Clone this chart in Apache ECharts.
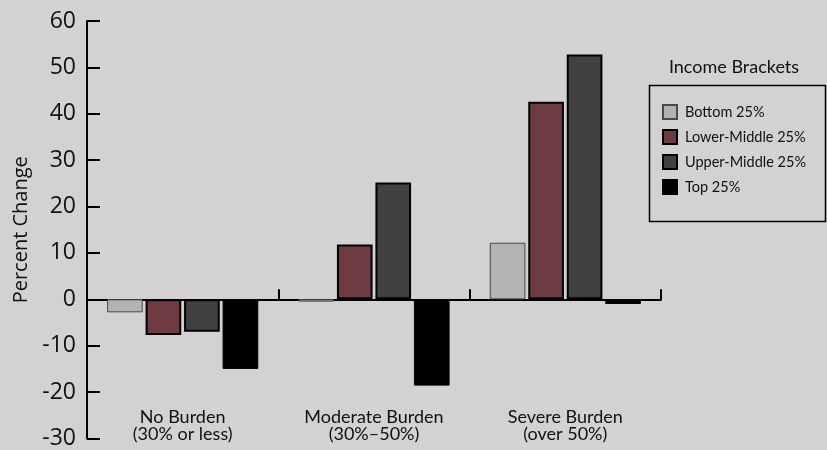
<!DOCTYPE html>
<html><head><meta charset="utf-8">
<script src="https://cdn.jsdelivr.net/npm/echarts@6/dist/echarts.min.js"></script>
<style>html,body{margin:0;padding:0;background:#d3d1d2;}#c{width:827px;height:450px;}</style>
</head><body><div id="c"></div>
<script>
var categories = ['No Burden\n(30% or less)', 'Moderate Burden\n(30%\u201350%)', 'Severe Burden\n(over 50%)'];
var seriesNames = ['Bottom 25%', 'Lower-Middle 25%', 'Upper-Middle 25%', 'Top 25%'];
var bottom25 = [-2.8, -0.5, 12.2];
var lowerMiddle25 = [-7.7, 11.8, 42.6];
var upperMiddle25 = [-7.0, 25.2, 52.8];
var top25 = [-15.0, -18.6, -1.0];
var yTicks = {min: -30, max: 60, interval: 10};
var legendTitle = 'Income Brackets';
var yTitle = 'Percent Change';

var colors = ['#b3b3b3', '#6e3b43', '#414141', '#000000'];
var borders = [{c:'#4a4a4a', w:1}, {c:'#000', w:2}, {c:'#000', w:2}, {c:'#000', w:1}];
var values = [bottom25, lowerMiddle25, upperMiddle25, top25];
var font = 'Lato';

var series = seriesNames.map(function(n, i){
  return {
    name: n, type: 'bar', xAxisIndex: 0, data: values[i],
    barGap: '8%', barCategoryGap: '21%',
    itemStyle: {color: colors[i], borderColor: borders[i].c, borderWidth: borders[i].w},
    emphasis: {disabled: true}
  };
});

var chart = echarts.init(document.getElementById('c'));
chart.setOption({
  animation: false,
  backgroundColor: '#d3d1d2',
  grid: {left: 87, right: 166, top: 21, bottom: 8, containLabel: false},
  legend: {
    orient: 'vertical', left: 662, top: 104, padding: 0,
    icon: 'rect',
    itemWidth: 14, itemHeight: 14, itemGap: 9,
    textStyle: {fontFamily: font, fontSize: 14.5, color: '#111', padding: [0, 0, 0, 3]},
    data: seriesNames
  },
  graphic: [
    {type: 'rect', left: 647, top: 83, shape: {width: 176, height: 136}, style: {fill: 'none', stroke: '#000', lineWidth: 1.5}, z: 0},
    {type: 'text', x: 734, y: 67, style: {text: legendTitle, font: '18px Lato', fill: '#111', textAlign: 'center', textVerticalAlign: 'middle'}}
  ],
  xAxis: [
    {type: 'category', data: categories, position: 'bottom',
     axisLine: {show: false, onZero: false}, axisTick: {show: false},
     axisLabel: {fontFamily: font, fontSize: 18, color: '#111', lineHeight: 17, margin: -30, verticalAlign: 'top'}},
    {type: 'category', data: categories, position: 'bottom',
     axisLine: {show: true, onZero: true, lineStyle: {color: '#000', width: 2}},
     axisTick: {show: true, inside: true, length: 10, lineStyle: {color: '#000', width: 2}},
     axisLabel: {show: false}}
  ],
  yAxis: {
    type: 'value', min: yTicks.min, max: yTicks.max, interval: yTicks.interval,
    name: yTitle, nameLocation: 'middle', nameGap: 52, nameRotate: 90,
    nameTextStyle: {fontFamily: 'Open Sans', fontSize: 20, color: '#111'},
    axisLine: {show: true, lineStyle: {color: '#000', width: 2}},
    axisTick: {show: true, inside: true, length: 13, lineStyle: {color: '#000', width: 2}},
    axisLabel: {fontFamily: 'Open Sans', fontSize: 23, color: '#111', margin: 11},
    splitLine: {show: false}
  },
  series: series
});
</script></body></html>
